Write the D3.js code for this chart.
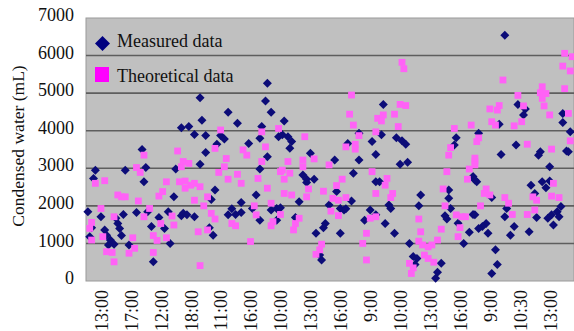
<!DOCTYPE html>
<html>
<head>
<meta charset="utf-8">
<script src="https://cdn.jsdelivr.net/npm/d3@7"></script>
<style>
  body { margin: 0; background: #fff; }
  svg { display: block; font-family: "Liberation Serif", "Times New Roman", serif; }
</style>
</head>
<body>
<svg id="chart" width="574" height="331"></svg>
<script>
// sample index along the record and condensed water (mL)
const measuredIdx = [51, 30, 5, 21, 32, 48, 4, 31, 47, 1, 8, 20, 27, 33, 39, 44, 51, 3, 10, 11, 13, 15, 17, 18, 16, 19, 35, 42, 45, 36, 23, 2, 12,
  55, 97, 96, 99, 61, 76, 62, 81, 94, 58, 64, 72, 74, 103, 93, 87, 70, 64, 97, 61, 93, 69, 67, 52, 54, 58, 78, 80, 83, 83, 91, 89, 76, 99, 102, 66, 68, 93, 102,
  106, 105, 108, 110, 109, 140, 146, 153, 155, 120, 133, 146, 143, 116, 118, 122, 118, 155, 134, 142, 136, 138, 139, 114, 130, 104, 152, 155, 112, 128, 127, 149, 123, 136, 126, 125,
  159, 158, 166, 169, 171, 168, 172, 157, 198, 197, 207, 209, 162, 163, 179, 178, 194, 194, 195, 192, 193, 160, 165, 199, 205, 207, 202, 173, 175, 177, 176, 190, 188, 187,
  224, 231, 235, 234, 255, 255, 259, 221, 210, 230, 222, 243, 242, 257, 258, 248, 208, 244, 246, 248, 238, 217, 240, 225, 254, 252, 249, 247, 253, 241, 224, 208, 214, 212, 215, 210, 229, 227, 237, 250, 219, 220, 217];
const measuredVal = [4080, 3500, 2950, 2950, 3020, 2980, 2730, 2640, 2240, 1840, 1710, 1770, 1820, 1840, 1690, 1840, 1740, 1420, 1360, 1220, 1090, 980, 1530, 1400, 1670, 1210, 1450, 1400, 1000, 510, 960, 1180, 960,
  4110, 5260, 4790, 4490, 4880, 4490, 4280, 4200, 4110, 3900, 3870, 3870, 3780, 3840, 3800, 3660, 3640, 3420, 3310, 3110, 2980, 2420, 2170, 1800, 1760, 1710, 1920, 1770, 1820, 2090, 2290, 1930, 1760, 1890, 1930, 1420, 1220, 1620, 1620,
  4260, 3890, 3840, 3710, 3530, 3660, 3930, 3710, 3370, 3400, 3220, 3220, 2870, 2820, 2710, 2710, 2620, 2640, 2380, 2130, 1930, 1890, 1920, 2110, 2020, 1950, 1890, 1760, 1690, 1530, 1420, 1620, 1270, 1270, 560, 690,
  4700, 3890, 3810, 3730, 3640, 3110, 3160, 2640, 3810, 3620, 2780, 2640, 2020, 1930, 2290, 2000, 2420, 2200, 1930, 1740, 1650, 1530, 1270, 1540, 1300, 1770, 1000, 1000, 650, 600, 440, 470, 230, 70,
  6540, 4700, 4580, 4420, 4460, 4220, 3970, 4170, 3930, 3620, 3370, 3440, 3350, 3460, 3440, 3040, 2690, 2640, 2480, 2660, 2550, 2220, 2330, 1930, 1980, 1840, 1760, 1670, 1710, 1690, 1710, 1760, 1530, 1450, 1270, 1400, 1450, 1220, 1310, 1490, 830, 440, 200];

const theoreticalIdx = [49, 31, 27, 29, 51, 5, 10, 43, 50, 17, 19, 21, 28, 39, 41, 8, 34, 3, 2, 15, 31, 46, 47, 40, 25, 36, 38, 43, 3, 9, 11, 14, 15, 23, 26, 36,
  72, 94, 103, 96, 69, 84, 86, 52, 55, 94, 74, 75, 71, 81, 76, 92, 104, 53, 56, 58, 61, 53, 83, 97, 65, 58, 63, 99, 90, 67, 69, 78, 80, 91, 100, 99, 60, 65, 88, 61,
  142, 141, 143, 156, 155, 146, 144, 139, 144, 117, 116, 122, 108, 105, 130, 116, 109, 106, 137, 153, 134, 119, 127, 106, 110, 118, 155, 132, 135, 139, 104, 131, 135, 114, 112, 111, 152, 155, 150, 148, 126, 125, 123, 150,
  169, 170, 168, 171, 165, 159, 158, 167, 197, 206, 195, 194, 208, 205, 193, 204, 161, 160, 164, 163, 191, 192, 198, 201, 203, 200, 178, 179, 190, 199, 188, 178, 180, 183, 185, 181, 183, 186, 173, 175, 174,
  256, 260, 255, 259, 223, 256, 244, 243, 246, 231, 244, 221, 216, 220, 245, 248, 258, 234, 217, 219, 233, 229, 210, 209, 236, 249, 259, 208, 208, 214, 213, 216, 224, 226, 239, 241, 250, 249, 253, 211, 240, 228, 236];
const theoreticalVal = [3460, 3350, 3020, 2890, 3040, 2600, 2670, 2640, 2640, 2290, 2240, 2240, 2130, 2260, 2380, 1930, 1930, 1560, 1400, 1710, 1710, 1730, 1490, 1530, 1150, 1210, 1080, 1150, 1090, 1180, 780, 760, 510, 740, 870, 760,
  4020, 3970, 4060, 3570, 3530, 3490, 3350, 3180, 3130, 3180, 3040, 3260, 2890, 2840, 2710, 2730, 2910, 2660, 2550, 2600, 2510, 2470, 2600, 2470, 2240, 2150, 2000, 2070, 2000, 1800, 1650, 1530, 1470, 1760, 1580, 1470, 1310, 1360, 1050, 410,
  4950, 4440, 4150, 4330, 3970, 3870, 3640, 3570, 3510, 3840, 3220, 3250, 3180, 2950, 3090, 3040, 2870, 2710, 2710, 2910, 2540, 2450, 2390, 2330, 2290, 2240, 2330, 2200, 2150, 2220, 1770, 1860, 1740, 1670, 1530, 1360, 1670, 1710, 1270, 1000, 980, 830, 710, 560,
  5820, 5650, 4700, 4670, 4440, 4420, 4260, 4110, 4060, 4150, 3550, 3350, 3190, 2980, 2910, 2710, 2730, 2550, 2330, 2220, 2450, 2000, 1760, 1710, 1710, 1420, 1650, 1310, 1380, 1180, 1090, 1060, 960, 910, 960, 690, 600, 500, 470, 350, 200,
  6060, 5970, 5720, 5590, 5350, 5120, 5170, 5010, 4990, 4940, 4860, 4670, 4580, 4550, 4660, 4420, 4460, 4660, 4240, 4150, 4240, 4130, 3810, 3710, 3640, 3510, 3730, 3270, 3090, 2450, 2330, 2290, 2220, 2070, 2240, 2150, 2600, 2260, 2220, 2000, 1890, 1770, 1770];

const timeTicks = [8, 24, 40, 56, 72, 88, 104, 120, 136, 152, 168, 184, 200, 216, 232, 248];
const timeLabels = ['13:00', '17:00', '12:00', '18:00', '11:00', '16:00', '10:00', '13:00',
  '16:00', '9:00', '10:00', '13:00', '16:00', '9:00', '10:30', '13:00'];
const yTicks = [0, 1000, 2000, 3000, 4000, 5000, 6000, 7000];
const seriesNames = ['Measured data', 'Theoretical data'];

const svg = d3.select('#chart');
const plotL = 86, plotR = 574, plotT = 18, plotB = 281;

const xs = d3.scaleLinear().domain([0, 261]).range([plotL, plotR]);
const ys = d3.scaleLinear().domain([0, 7000]).range([plotB, plotT]);

// plot area
svg.append('rect')
  .attr('x', plotL).attr('y', plotT)
  .attr('width', plotR - plotL).attr('height', plotB - plotT)
  .attr('fill', '#c0c0c0')
  .attr('stroke', '#9a9a9a').attr('stroke-width', 1);

svg.append('g').selectAll('line')
  .data(yTicks.filter(d => d > 0 && d < 7000))
  .enter().append('line')
  .attr('x1', plotL).attr('x2', plotR)
  .attr('y1', d => ys(d)).attr('y2', d => ys(d))
  .attr('stroke', '#5e5e5e').attr('stroke-width', 1.6);

// y axis
const yAxis = svg.append('g')
  .attr('transform', 'translate(' + plotL + ',0)')
  .call(d3.axisLeft(ys).tickValues(yTicks).tickSize(0).tickPadding(12)
    .tickFormat(d3.format('d')));
yAxis.select('.domain').remove();
yAxis.selectAll('text')
  .attr('dy', '0.15em')
  .style('font-size', '18px')
  .style('font-family', '"Liberation Serif", serif')
  .attr('fill', '#111');

// x axis, rotated time labels
const xAxis = svg.append('g')
  .attr('transform', 'translate(0,' + plotB + ')')
  .call(d3.axisBottom(xs).tickValues(timeTicks).tickSize(0)
    .tickFormat((d, i) => timeLabels[i]));
xAxis.select('.domain').remove();
xAxis.selectAll('text')
  .attr('y', 0).attr('x', -9).attr('dy', '0.35em')
  .attr('transform', 'rotate(-90)')
  .style('text-anchor', 'end')
  .style('font-size', '18px')
  .style('font-family', '"Liberation Serif", serif')
  .attr('fill', '#111');

svg.append('text')
  .attr('transform', 'translate(24,146) rotate(-90)')
  .attr('text-anchor', 'middle')
  .style('font-size', '17.5px')
  .attr('fill', '#111')
  .text('Condensed water (mL)');

function diamond(r) {
  return 'M0,' + (-r) + 'L' + r + ',0L0,' + r + 'L' + (-r) + ',0Z';
}

// measured points
svg.append('g').selectAll('path')
  .data(measuredIdx.map((d, i) => [d, measuredVal[i]]))
  .enter().append('path')
  .attr('transform', d => 'translate(' + xs(d[0]) + ',' + ys(d[1]) + ')')
  .attr('d', diamond(4.5))
  .attr('fill', '#0c0c78');

// theoretical points
svg.append('g').selectAll('rect')
  .data(theoreticalIdx.map((d, i) => [d, theoreticalVal[i]]))
  .enter().append('rect')
  .attr('x', d => xs(d[0]) - 3.4)
  .attr('y', d => ys(d[1]) - 3.4)
  .attr('width', 6.8).attr('height', 6.8)
  .attr('fill', '#ff62f6');

// legend
const legend = svg.append('g');
legend.append('path')
  .attr('transform', 'translate(102.5,43.5)')
  .attr('d', diamond(7.5))
  .attr('fill', '#000080');
legend.append('rect')
  .attr('x', 95).attr('y', 67).attr('width', 14).attr('height', 15)
  .attr('fill', '#ff00ff');
legend.selectAll('text')
  .data(seriesNames)
  .enter().append('text')
  .attr('x', 117)
  .attr('y', (d, i) => 46.5 + i * 35.5)
  .style('font-size', '18px')
  .attr('fill', '#111')
  .text(d => d);
</script>
</body>
</html>
